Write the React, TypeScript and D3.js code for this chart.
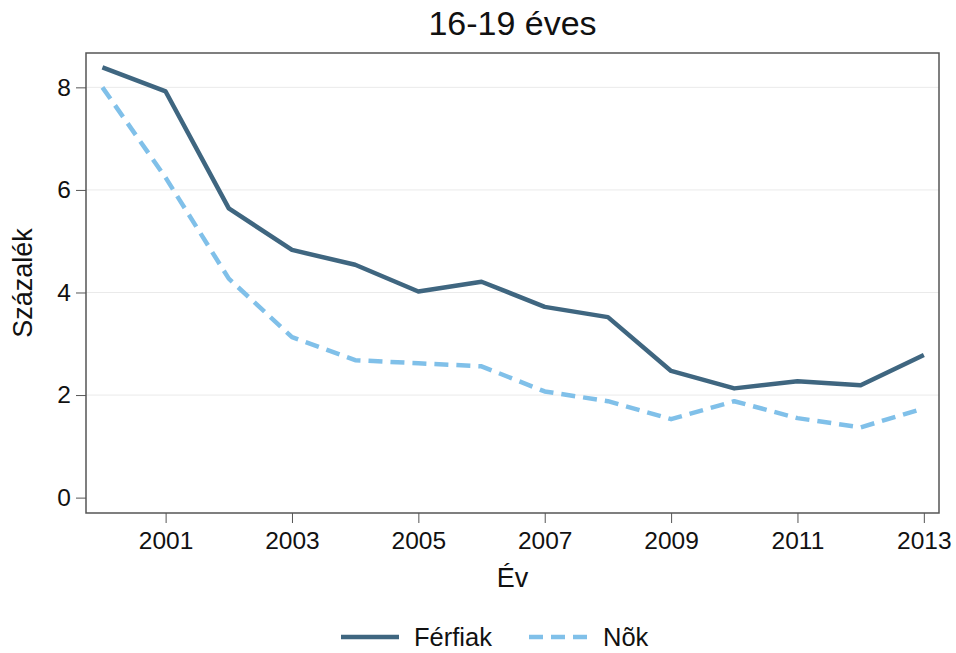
import { useEffect, useRef } from 'react';
import * as d3 from 'd3';

const years = [2000, 2001, 2002, 2003, 2004, 2005, 2006, 2007, 2008, 2009, 2010, 2011, 2012, 2013];
const ferfiak = [8.39, 7.92, 5.64, 4.83, 4.54, 4.02, 4.21, 3.72, 3.52, 2.47, 2.13, 2.27, 2.19, 2.78];
const nok = [8.0, 6.24, 4.27, 3.13, 2.68, 2.62, 2.56, 2.07, 1.88, 1.53, 1.88, 1.55, 1.37, 1.74];
const yTicks = [0, 2, 4, 6, 8];
const xTicks = [2001, 2003, 2005, 2007, 2009, 2011, 2013];

const series = [
  { name: 'Férfiak', values: ferfiak, color: '#3f6680', dash: null as string | null },
  { name: 'Nõk', values: nok, color: '#80c0e9', dash: '14,8' },
];

const FONT = '"Liberation Sans", Arial, sans-serif';

export default function App() {
  const svgRef = useRef<SVGSVGElement>(null);

  useEffect(() => {
    if (!svgRef.current) return;
    const width = 956;
    const height = 653;
    const margin = { top: 53, right: 17, bottom: 140, left: 86 };
    const innerWidth = width - margin.left - margin.right;
    const innerHeight = height - margin.top - margin.bottom;

    const svg = d3.select(svgRef.current);
    svg.selectAll('*').remove();
    svg.attr('width', width).attr('height', height).style('font-family', FONT);

    svg.append('rect').attr('width', width).attr('height', height).attr('fill', '#fff');

    const g = svg.append('g').attr('transform', `translate(${margin.left},${margin.top})`);

    const xScale = d3.scaleLinear().domain([1999.74, 2013.24]).range([0, innerWidth]);
    const yScale = d3.scaleLinear().domain([-0.3, 8.67]).range([innerHeight, 0]);

    // Grid
    g.append('g')
      .selectAll('line')
      .data(yTicks.filter((d) => d > 0))
      .join('line')
      .attr('x1', 0)
      .attr('x2', innerWidth)
      .attr('y1', (d) => yScale(d))
      .attr('y2', (d) => yScale(d))
      .attr('stroke', '#eaeaea')
      .attr('stroke-width', 1);

    // Lines
    series.forEach((s) => {
      const line = d3
        .line<number>()
        .x((_, i) => xScale(years[i]))
        .y((d) => yScale(d));
      const path = g
        .append('path')
        .datum(s.values)
        .attr('fill', 'none')
        .attr('stroke', s.color)
        .attr('stroke-width', 4.5)
        .attr('stroke-linejoin', 'round')
        .attr('d', line);
      if (s.dash) path.attr('stroke-dasharray', s.dash);
    });

    // Frame
    g.append('rect')
      .attr('width', innerWidth)
      .attr('height', innerHeight)
      .attr('fill', 'none')
      .attr('stroke', '#555')
      .attr('stroke-width', 1.5);

    // Y axis
    const yAxis = g
      .append('g')
      .call(d3.axisLeft(yScale).tickValues(yTicks).tickSize(10).tickPadding(5));
    yAxis.select('.domain').remove();
    yAxis.selectAll('line').attr('stroke', '#555');
    yAxis.selectAll('text').attr('font-size', 24.5).attr('font-family', FONT).attr('fill', '#111');

    // X axis
    const xAxis = g
      .append('g')
      .attr('transform', `translate(0,${innerHeight})`)
      .call(
        d3
          .axisBottom(xScale)
          .tickValues(xTicks)
          .tickFormat((d) => `${d}`)
          .tickSize(10)
          .tickPadding(9)
      );
    xAxis.select('.domain').remove();
    xAxis.selectAll('line').attr('stroke', '#555');
    xAxis.selectAll('text').attr('font-size', 24.5).attr('font-family', FONT).attr('fill', '#111');

    // Title
    svg
      .append('text')
      .attr('x', margin.left + innerWidth / 2)
      .attr('y', 35)
      .attr('text-anchor', 'middle')
      .attr('font-size', 34)
      .attr('fill', '#111')
      .text('16-19 éves');

    // Axis titles
    svg
      .append('text')
      .attr('x', margin.left + innerWidth / 2)
      .attr('y', 587)
      .attr('text-anchor', 'middle')
      .attr('font-size', 27)
      .attr('fill', '#111')
      .text('Év');

    svg
      .append('text')
      .attr('transform', `translate(32,${margin.top + innerHeight / 2}) rotate(-90)`)
      .attr('text-anchor', 'middle')
      .attr('font-size', 27)
      .attr('fill', '#111')
      .text('Százalék');

    // Legend
    const legendItems = [
      { x: 341, textX: 414 },
      { x: 529, textX: 603 },
    ];
    series.forEach((s, i) => {
      const item = legendItems[i];
      const l = svg
        .append('line')
        .attr('x1', item.x)
        .attr('x2', item.x + 58)
        .attr('y1', 637)
        .attr('y2', 637)
        .attr('stroke', s.color)
        .attr('stroke-width', 4.5);
      if (s.dash) l.attr('stroke-dasharray', s.dash);
      svg
        .append('text')
        .attr('x', item.textX)
        .attr('y', 646)
        .attr('font-size', 25.5)
        .attr('fill', '#111')
        .text(s.name);
    });
  }, []);

  return (
    <svg
      ref={svgRef}
      style={{ display: 'block', position: 'absolute', left: 0, top: 0, overflow: 'visible' }}
    />
  );
}
